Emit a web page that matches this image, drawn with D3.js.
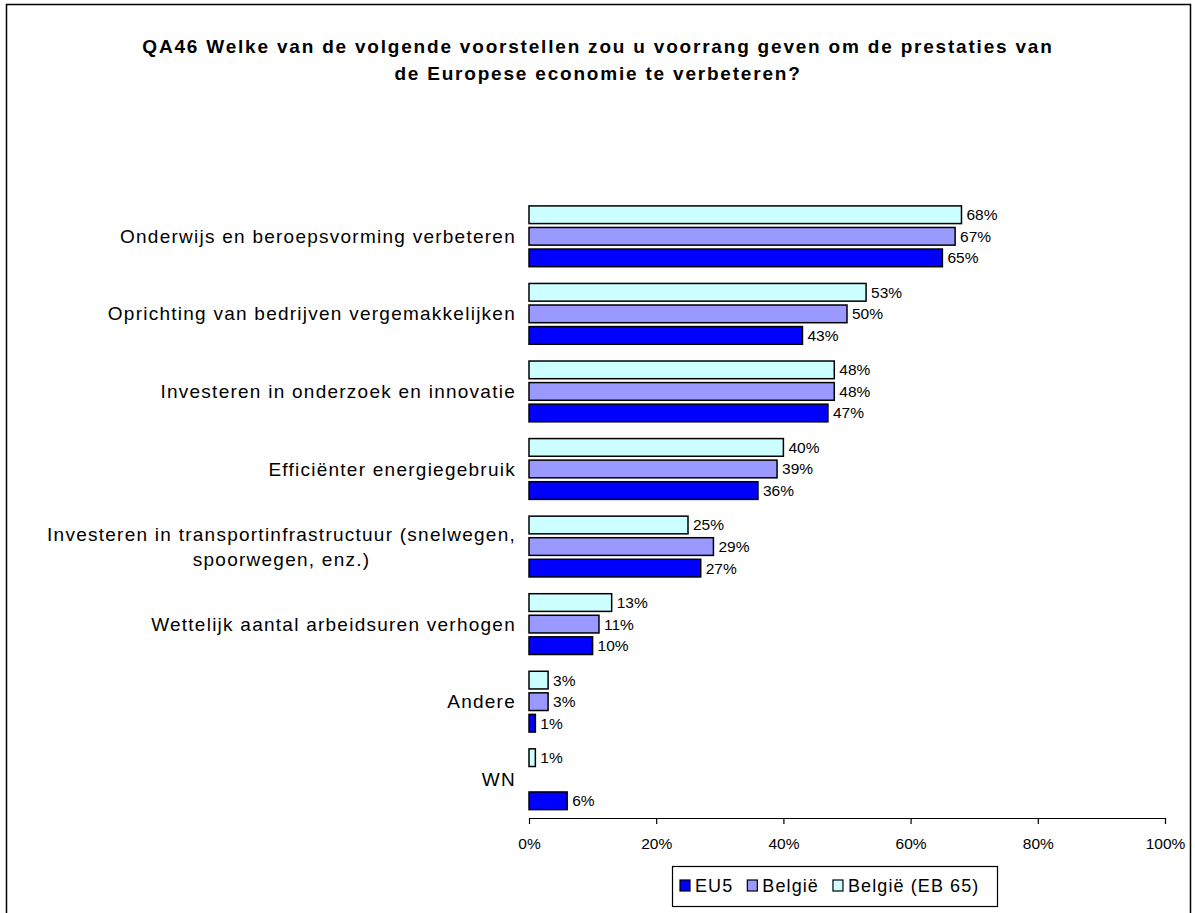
<!DOCTYPE html>
<html>
<head>
<meta charset="utf-8">
<script src="https://cdn.jsdelivr.net/npm/d3@7"></script>
<style>
  body { margin: 0; background: #fff; }
  svg { display: block; font-family: "Liberation Sans", Arial, sans-serif; }
</style>
</head>
<body>
<svg id="chart" width="1195" height="913"></svg>
<script>
const titleLines = [
  "QA46 Welke van de volgende voorstellen zou u voorrang geven om de prestaties van",
  "de Europese economie te verbeteren?"
];
const categories = [
  ["Onderwijs en beroepsvorming verbeteren"],
  ["Oprichting van bedrijven vergemakkelijken"],
  ["Investeren in onderzoek en innovatie"],
  ["Efficiënter energiegebruik"],
  ["Investeren in transportinfrastructuur (snelwegen,", "spoorwegen, enz.)"],
  ["Wettelijk aantal arbeidsuren verhogen"],
  ["Andere"],
  ["WN"]
];
const seriesNames = ["EU5", "België", "België (EB 65)"];
const eu5 =        [65, 43, 47, 36, 27, 10, 1, 6];
const belgie =     [67, 50, 48, 39, 29, 11, 3, null];
const belgieEB65 = [68, 53, 48, 40, 25, 13, 3, 1];
const seriesColors = ["#0000FF", "#9999FF", "#CCFFFF"];
const xTicks = [0, 20, 40, 60, 80, 100];

const svg = d3.select("#chart");
const W = 1195, H = 913;

// outer frame (no bottom edge)
svg.append("path")
  .attr("d", `M6.5,${H} V4.5 H1190.5 V${H}`)
  .attr("fill", "none").attr("stroke", "#000").attr("stroke-width", 1.5);

// title
svg.append("g").selectAll("text").data(titleLines).join("text")
  .attr("x", 598).attr("y", (d, i) => 53 + i * 27)
  .attr("text-anchor", "middle")
  .attr("font-weight", "bold").attr("font-size", 19)
  .attr("letter-spacing", 1.8)
  .text(d => d);

const catKeys = categories.map((c, i) => i);
const x = d3.scaleLinear().domain([0, 100]).range([529, 1165]);
const y0 = d3.scaleBand().domain(catKeys).range([197.5, 818]);
const order = [2, 1, 0]; // top to bottom: EB65, België, EU5
const y1 = d3.scaleBand().domain(order).range([8.4, 69.2]).paddingInner(0.18);

const seriesVals = [eu5, belgie, belgieEB65];
const rows = [];
catKeys.forEach(ci => {
  order.forEach(si => {
    const v = seriesVals[si][ci];
    if (v != null) rows.push({ ci, si, v });
  });
});

const g = svg.append("g");
g.selectAll("rect").data(rows).join("rect")
  .attr("x", x(0))
  .attr("y", d => y0(d.ci) + y1(d.si))
  .attr("width", d => x(d.v) - x(0))
  .attr("height", y1.bandwidth())
  .attr("fill", d => seriesColors[d.si])
  .attr("stroke", "#000").attr("stroke-width", 1.5);

g.selectAll("text.val").data(rows).join("text")
  .attr("class", "val")
  .attr("x", d => x(d.v) + 5)
  .attr("y", d => y0(d.ci) + y1(d.si) + y1.bandwidth() / 2)
  .attr("dy", "0.35em")
  .attr("font-size", 15.5)
  .text(d => d.v + "%");

// category labels
const labG = svg.append("g");
categories.forEach((lines, ci) => {
  const cy = y0(ci) + y0.bandwidth() / 2;
  const t = labG.append("g");
  const texts = lines.map((ln, li) => t.append("text")
    .attr("font-size", 19)
    .attr("letter-spacing", 1.25)
    .attr("y", cy + (li - (lines.length - 1) / 2) * 25)
    .attr("dy", "0.35em")
    .text(ln));
  const maxW = d3.max(texts, tx => tx.node().getComputedTextLength());
  texts.forEach(tx => tx.attr("text-anchor", "middle").attr("x", 516 - maxW / 2));
});

// x axis
const axis = svg.append("g")
  .attr("transform", "translate(0,818)")
  .call(d3.axisBottom(x).tickValues(xTicks).tickFormat(d => d + "%").tickSize(6).tickSizeOuter(0).tickPadding(14));
axis.selectAll("path, line").attr("stroke", "#000").attr("stroke-width", 1.2);
axis.selectAll("text").attr("font-size", 15.5).attr("fill", "#000").attr("font-family", "Liberation Sans, Arial, sans-serif");

// legend
const lg = svg.append("g");
lg.append("rect").attr("x", 672.5).attr("y", 866.5).attr("width", 325).attr("height", 40)
  .attr("fill", "#fff").attr("stroke", "#000").attr("stroke-width", 1.2);
const legItems = [0, 1, 2];
let lx = 680;
legItems.forEach(si => {
  lg.append("rect").attr("x", lx).attr("y", 880).attr("width", 10).attr("height", 11)
    .attr("fill", seriesColors[si]).attr("stroke", "#000").attr("stroke-width", 1.2);
  const t = lg.append("text").attr("x", lx + 15).attr("y", 886).attr("dy", "0.35em")
    .attr("font-size", 18).attr("letter-spacing", 1.1).text(seriesNames[si]);
  lx += 15 + t.node().getComputedTextLength() + 14;
});
</script>
</body>
</html>
